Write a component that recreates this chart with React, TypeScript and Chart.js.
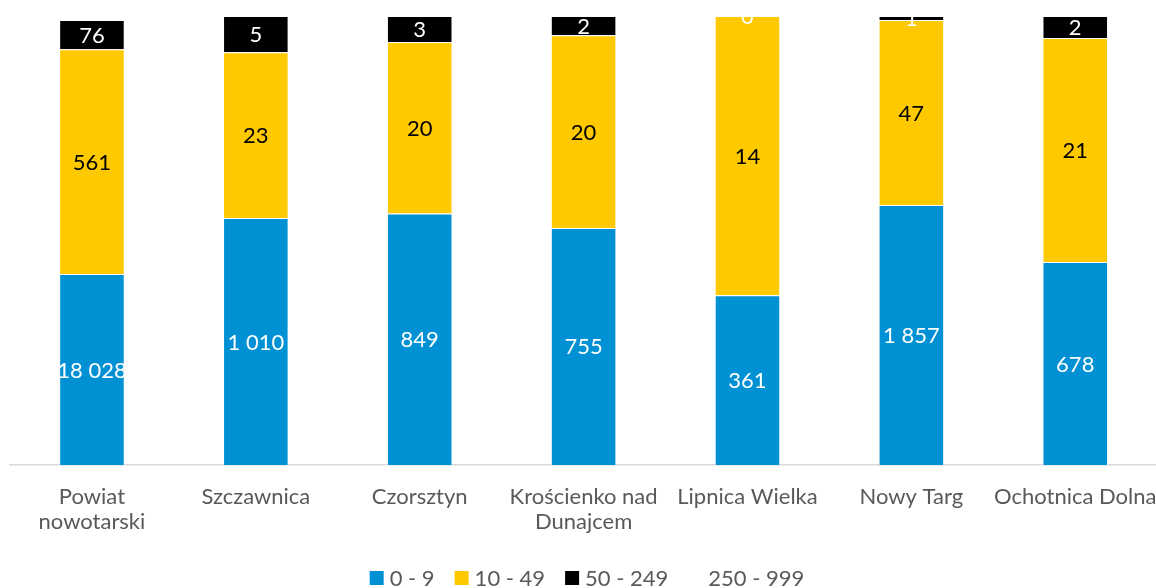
import React, { useEffect, useRef } from "react";
import { Chart, registerables } from "chart.js";

Chart.register(...registerables);

const categories: (string | string[])[] = [
  ["Powiat", "nowotarski"],
  "Szczawnica",
  "Czorsztyn",
  ["Krościenko nad", "Dunajcem"],
  "Lipnica Wielka",
  "Nowy Targ",
  "Ochotnica Dolna",
];
const seriesNames = ["0 - 9", "10 - 49", "50 - 249", "250 - 999"];
// shares (%) that set the bar heights (100% stacked)
const share0to9 = [42.5, 55.0, 56.0, 52.8, 37.8, 57.9, 45.2];
const share10to49 = [50.1, 36.9, 38.2, 42.9, 62.2, 41.2, 49.9];
const share50to249 = [6.5, 8.1, 5.8, 4.3, 0, 0.9, 4.9];
const share250to999 = [0.9, 0, 0, 0, 0, 0, 0];
// counts shown as data labels
const count0to9 = [18028, 1010, 849, 755, 361, 1857, 678];
const count10to49 = [561, 23, 20, 20, 14, 47, 21];
const count50to249 = [76, 5, 3, 2, 0, 1, 2];

const colors = ["#0091d5", "#ffc900", "#000000", "#ffffff"];
const labelColors = ["#ffffff", "#000000", "#ffffff"];
const FONT = "Lato";
const CW = 1168;
const CH = 588;

const fmt = (n: number) => n.toString().replace(/\B(?=(\d{3})+(?!\d))/g, " ");

const labelPlugin = {
  id: "segLabels",
  afterDatasetsDraw(chart: any) {
    const { ctx, chartArea } = chart;
    const counts = [count0to9, count10to49, count50to249];
    ctx.save();
    ctx.beginPath();
    ctx.rect(chartArea.left, chartArea.top, chartArea.right - chartArea.left, chartArea.bottom - chartArea.top);
    ctx.clip();
    ctx.font = `22px ${FONT}`;
    ctx.textAlign = "center";
    ctx.textBaseline = "middle";
    counts.forEach((arr, i) => {
      const meta = chart.getDatasetMeta(i);
      ctx.fillStyle = labelColors[i];
      meta.data.forEach((bar: any, j: number) => {
        const { x, y, base } = bar.getProps(["x", "y", "base"], true);
        ctx.fillText(fmt(arr[j]), x, (y + base) / 2 + 1);
      });
    });
    ctx.restore();
  },
};

const legendPlugin = {
  id: "customLegend",
  afterDraw(chart: any) {
    const { ctx } = chart;
    const box = 14;
    const gapBoxText = 6;
    const gapItems = 20;
    ctx.save();
    ctx.font = `22px ${FONT}`;
    ctx.textBaseline = "middle";
    ctx.textAlign = "left";
    const widths = seriesNames.map((n) => ctx.measureText(n).width);
    const total =
      widths.reduce((a, w) => a + box + gapBoxText + w, 0) + gapItems * (seriesNames.length - 1);
    let x = chart.width / 2 + 3 - total / 2;
    const cy = chart.height - 10;
    seriesNames.forEach((n, i) => {
      ctx.fillStyle = colors[i];
      ctx.fillRect(x, cy - box / 2, box, box);
      x += box + gapBoxText;
      ctx.fillStyle = "#595959";
      ctx.fillText(n, x, cy + 1);
      x += widths[i] + gapItems;
    });
    ctx.restore();
  },
};

export default function App() {
  const ref = useRef<HTMLCanvasElement>(null);
  useEffect(() => {
    if (!ref.current) return;
    const data = [share0to9, share10to49, share50to249, share250to999];
    const chart = new Chart(ref.current, {
      type: "bar",
      data: {
        labels: categories,
        datasets: seriesNames.map((name, i) => ({
          label: name,
          data: data[i],
          backgroundColor: colors[i],
          borderColor: i === 3 ? "#ffffff" : "rgba(255,255,255,0.5)",
          borderWidth: i === 3 ? 0 : 1,
          categoryPercentage: 1,
          barPercentage: 0.4,
        })),
      },
      options: {
        animation: false,
        responsive: false,
        maintainAspectRatio: false,
        layout: { padding: { top: 16, left: 10, right: 0, bottom: 41.5 } },
        plugins: {
          legend: { display: false },
          tooltip: { enabled: false },
        },
        scales: {
          x: {
            stacked: true,
            grid: { display: false },
            border: { display: true, color: "#d9d9d9", width: 1.5 },
            ticks: {
              color: "#595959",
              font: { family: FONT, size: 22, lineHeight: 1.15 },
              padding: 11.5,
              maxRotation: 0,
              autoSkip: false,
            },
          },
          y: {
            stacked: true,
            display: false,
            min: 0,
            max: 100,
          },
        },
      },
      plugins: [labelPlugin, legendPlugin],
    });
    return () => chart.destroy();
  }, []);
  return (
    <div style={{ position: "absolute", left: 0, top: 0, width: 1156, height: 588, overflow: "hidden", background: "#fff" }}>
      <canvas ref={ref} width={CW} height={CH} style={{ width: CW, height: CH, display: "block" }} />
    </div>
  );
}
